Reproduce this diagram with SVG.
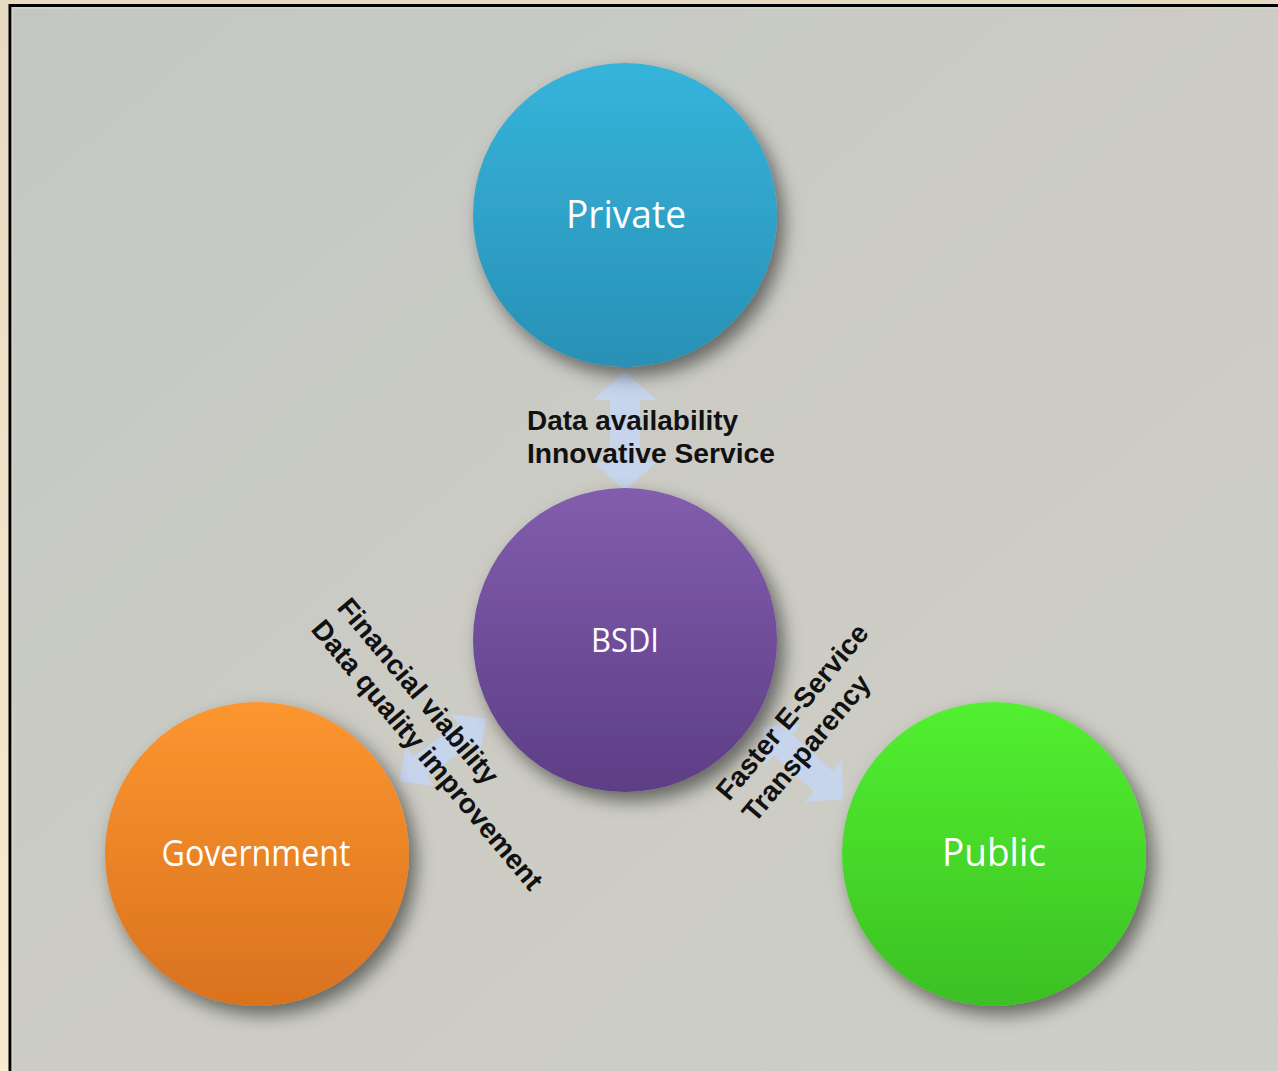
<svg xmlns="http://www.w3.org/2000/svg" width="1278" height="1071" viewBox="0 0 1278 1071">
  <defs>
    <linearGradient id="outer" x1="0" y1="0" x2="0" y2="1">
      <stop offset="0" stop-color="#E6DBC0"/>
      <stop offset="1" stop-color="#F8EBD1"/>
    </linearGradient>
    <linearGradient id="panel" x1="0" y1="0" x2="1" y2="1">
      <stop offset="0" stop-color="#C3C7C4"/>
      <stop offset="0.5" stop-color="#CCCCC4"/>
      <stop offset="1" stop-color="#CDCEC5"/>
    </linearGradient>
    <linearGradient id="gPrivate" x1="0" y1="0" x2="0" y2="1">
      <stop offset="0" stop-color="#36B4DA"/>
      <stop offset="1" stop-color="#2990B6"/>
    </linearGradient>
    <linearGradient id="gBsdi" x1="0" y1="0" x2="0" y2="1">
      <stop offset="0" stop-color="#825DAD"/>
      <stop offset="1" stop-color="#5D3E85"/>
    </linearGradient>
    <linearGradient id="gGov" x1="0" y1="0" x2="0" y2="1">
      <stop offset="0" stop-color="#FC962F"/>
      <stop offset="1" stop-color="#D9721F"/>
    </linearGradient>
    <linearGradient id="gPub" x1="0" y1="0" x2="0" y2="1">
      <stop offset="0" stop-color="#52F030"/>
      <stop offset="1" stop-color="#3CC024"/>
    </linearGradient>
    <filter id="shadow" x="-30%" y="-30%" width="160%" height="160%">
      <feDropShadow dx="7" dy="9" stdDeviation="9" flood-color="#000" flood-opacity="0.5"/>
    </filter>
    <style>
      .node-label { font-family: "Open Sans", "Noto Sans", sans-serif; font-weight: 500; fill: #FFFFFF; text-anchor: middle; }
      .edge-label { font-family: "Liberation Sans", Arial, sans-serif; font-weight: bold; font-size: 28px; fill: #111111; }
      .arrow { fill: #C6D4EC; }
    </style>
  </defs>

  <rect x="0" y="0" width="1278" height="1071" fill="url(#outer)"/>
  <rect x="10" y="5.5" width="1280" height="1080" fill="url(#panel)" stroke="#000" stroke-width="3"/>
  <rect x="12.5" y="8" width="1270" height="1070" fill="none" stroke="#D9D6C8" stroke-width="2" opacity="0.7"/>

  <g id="connectors">
    <path class="arrow" transform="translate(625,431) rotate(90)" d="M-59,0 L-31,-32 L-31,-15 L31,-15 L31,-32 L59,0 L31,32 L31,15 L-31,15 L-31,32 Z"/>
    <path class="arrow" transform="translate(443,750) rotate(-35.6)" d="M-54,0 L-28,-24 L-28,-12 L28,-12 L28,-24 L54,0 L28,24 L28,12 L-28,12 L-28,24 Z"/>
    <path class="arrow" transform="translate(803,763) rotate(42)" d="M-54,0 L-27,-28 L-27,-14 L27,-14 L27,-28 L54,0 L27,28 L27,14 L-27,14 L-27,28 Z"/>
  </g>

  <g id="node-private">
    <circle cx="625" cy="215" r="152" fill="url(#gPrivate)" filter="url(#shadow)"/>
    <text class="node-label" x="626" y="228" font-size="39" textLength="120" lengthAdjust="spacingAndGlyphs">Private</text>
  </g>
  <g id="node-bsdi">
    <circle cx="625" cy="640" r="152" fill="url(#gBsdi)" filter="url(#shadow)"/>
    <text class="node-label" x="625" y="652" font-size="33" textLength="68" lengthAdjust="spacingAndGlyphs">BSDI</text>
  </g>
  <g id="node-government">
    <circle cx="257" cy="854" r="152" fill="url(#gGov)" filter="url(#shadow)"/>
    <text class="node-label" x="256" y="866" font-size="37" textLength="189" lengthAdjust="spacingAndGlyphs">Government</text>
  </g>
  <g id="node-public">
    <circle cx="994" cy="854" r="152" fill="url(#gPub)" filter="url(#shadow)"/>
    <text class="node-label" x="994" y="866" font-size="39" textLength="104" lengthAdjust="spacingAndGlyphs">Public</text>
  </g>

  <g id="edge-labels">
    <text class="edge-label" x="527" y="430" textLength="211" lengthAdjust="spacingAndGlyphs">Data availability</text>
    <text class="edge-label" x="527" y="463" textLength="248" lengthAdjust="spacingAndGlyphs">Innovative Service</text>
    <g transform="translate(336,608) rotate(50)">
      <text class="edge-label" x="0" y="0">Financial viability</text>
      <text class="edge-label" x="0" y="34">Data quality improvement</text>
    </g>
    <g transform="translate(729,802) rotate(-50)">
      <text class="edge-label" x="0" y="0">Faster E-Service</text>
      <text class="edge-label" x="0" y="34">Transparency</text>
    </g>
  </g>
</svg>
